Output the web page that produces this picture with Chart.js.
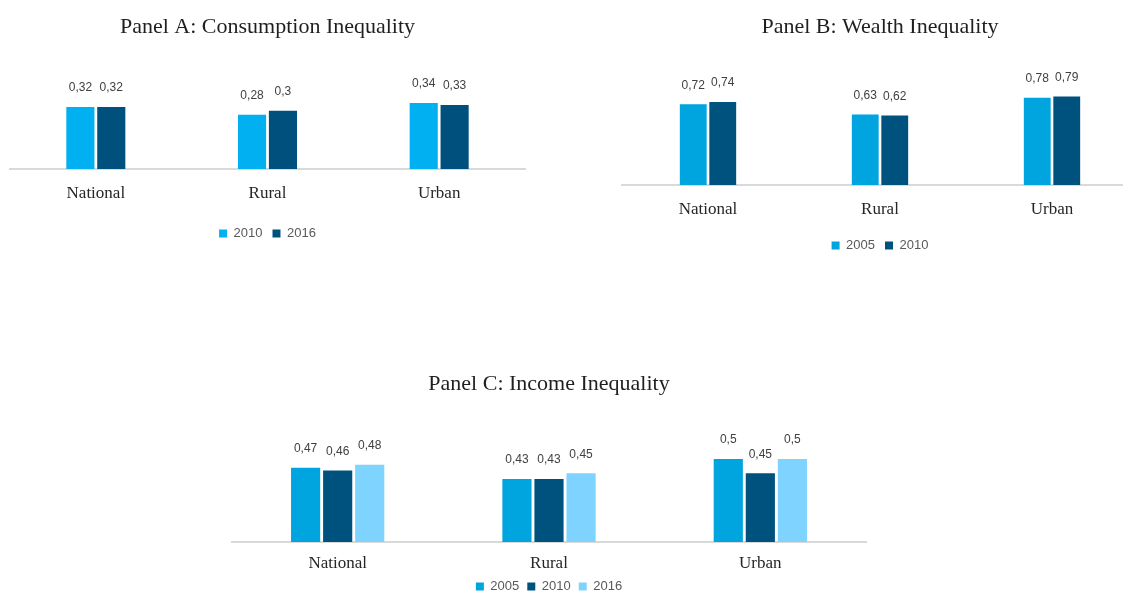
<!DOCTYPE html>
<html>
<head>
<meta charset="utf-8">
<script src="https://cdn.jsdelivr.net/npm/chart.js@4.4.1/dist/chart.umd.min.js"></script>
<style>
  html, body { margin: 0; padding: 0; background: #fff; overflow: hidden; width: 1123px; height: 594px; }
  canvas { position: absolute; }
</style>
</head>
<body>
<canvas id="chartA" width="535" height="250" style="left:0;top:0"></canvas>
<canvas id="chartB" width="536" height="262" style="left:612px;top:0"></canvas>
<canvas id="chartC" width="654" height="253" style="left:222px;top:350px"></canvas>
<script>
const regions = ["National", "Rural", "Urban"];

const consumption2010 = [0.32, 0.28, 0.34];
const consumption2016 = [0.32, 0.3, 0.33];

const wealth2005 = [0.72, 0.63, 0.78];
const wealth2010 = [0.74, 0.62, 0.79];

const income2005 = [0.47, 0.43, 0.5];
const income2010 = [0.46, 0.43, 0.45];
const income2016 = [0.48, 0.45, 0.5];

const SERIF = "'Liberation Serif', 'Times New Roman', serif";
const SANS = "'Liberation Sans', Arial, sans-serif";

// value labels above each bar, decimal comma like the source
const valueLabels = {
  id: "valueLabels",
  afterDatasetsDraw(chart) {
    const ctx = chart.ctx;
    ctx.save();
    ctx.font = `12px ${SANS}`;
    ctx.fillStyle = "#404040";
    ctx.textAlign = "center";
    ctx.textBaseline = "middle";
    chart.data.datasets.forEach((ds, i) => {
      chart.getDatasetMeta(i).data.forEach((bar, j) => {
        ctx.fillText(String(ds.data[j]).replace(".", ","), bar.x, bar.y - 19);
      });
    });
    ctx.restore();
  },
};

function panel(id, title, sets, opt) {
  const chart = new Chart(document.getElementById(id), {
    type: "bar",
    data: {
      labels: regions,
      datasets: sets.map(([label, data, color]) => ({
        label, data, backgroundColor: color,
        categoryPercentage: opt.cat, barPercentage: 0.91,
      })),
    },
    options: {
      responsive: false,
      animation: false,
      layout: { padding: { left: 10, right: 10, top: 0, bottom: 0 } },
      scales: {
        x: {
          grid: { display: false, drawTicks: false },
          border: { display: true, color: "#d9d9d9", width: 2 },
          ticks: { color: "#262626", font: { family: SERIF, size: 17, lineHeight: 1 }, padding: opt.tickPad },
          afterFit: (s) => { s.height = opt.axisH; },
        },
        y: { display: false, min: opt.min, max: 1 },
      },
      plugins: {
        title: {
          display: true, text: title, color: "#1f1f1f",
          font: { family: SERIF, size: 22, weight: "normal" },
          padding: { top: opt.titleTop, bottom: opt.titleBottom },
        },
        legend: {
          position: "bottom",
          labels: { boxWidth: 8, boxHeight: 8, padding: opt.legPad, color: "#595959", font: { family: SANS, size: 13 } },
        },
        tooltip: { enabled: false },
      },
    },
    plugins: [valueLabels],
  });
  // keep the pixel-per-unit scale of the source
  const h = chart.chartArea.bottom - chart.chartArea.top;
  chart.options.scales.y.max = opt.min + h / opt.pxPerUnit;
  chart.update("none");
  return chart;
}

panel("chartA", "Panel A: Consumption Inequality", [
  ["2010", consumption2010, "#00B0F0"],
  ["2016", consumption2016, "#00507E"],
], { cat: 0.36, min: 0, pxPerUnit: 194, tickPad: 16, axisH: 48, legPad: 10, titleTop: 14, titleBottom: 20 });

panel("chartB", "Panel B: Wealth Inequality", [
  ["2005", wealth2005, "#00A5E0"],
  ["2010", wealth2010, "#00527E"],
], { cat: 0.343, min: 0, pxPerUnit: 112, tickPad: 16, axisH: 44, legPad: 10, titleTop: 14, titleBottom: 20 });

panel("chartC", "Panel C: Income Inequality", [
  ["2005", income2005, "#00A5E0"],
  ["2010", income2010, "#00527E"],
  ["2016", income2016, "#7FD3FF"],
], { cat: 0.455, min: 0.21, pxPerUnit: 286, tickPad: 13, axisH: 30, legPad: 8, titleTop: 21, titleBottom: 20 });
</script>
</body>
</html>
